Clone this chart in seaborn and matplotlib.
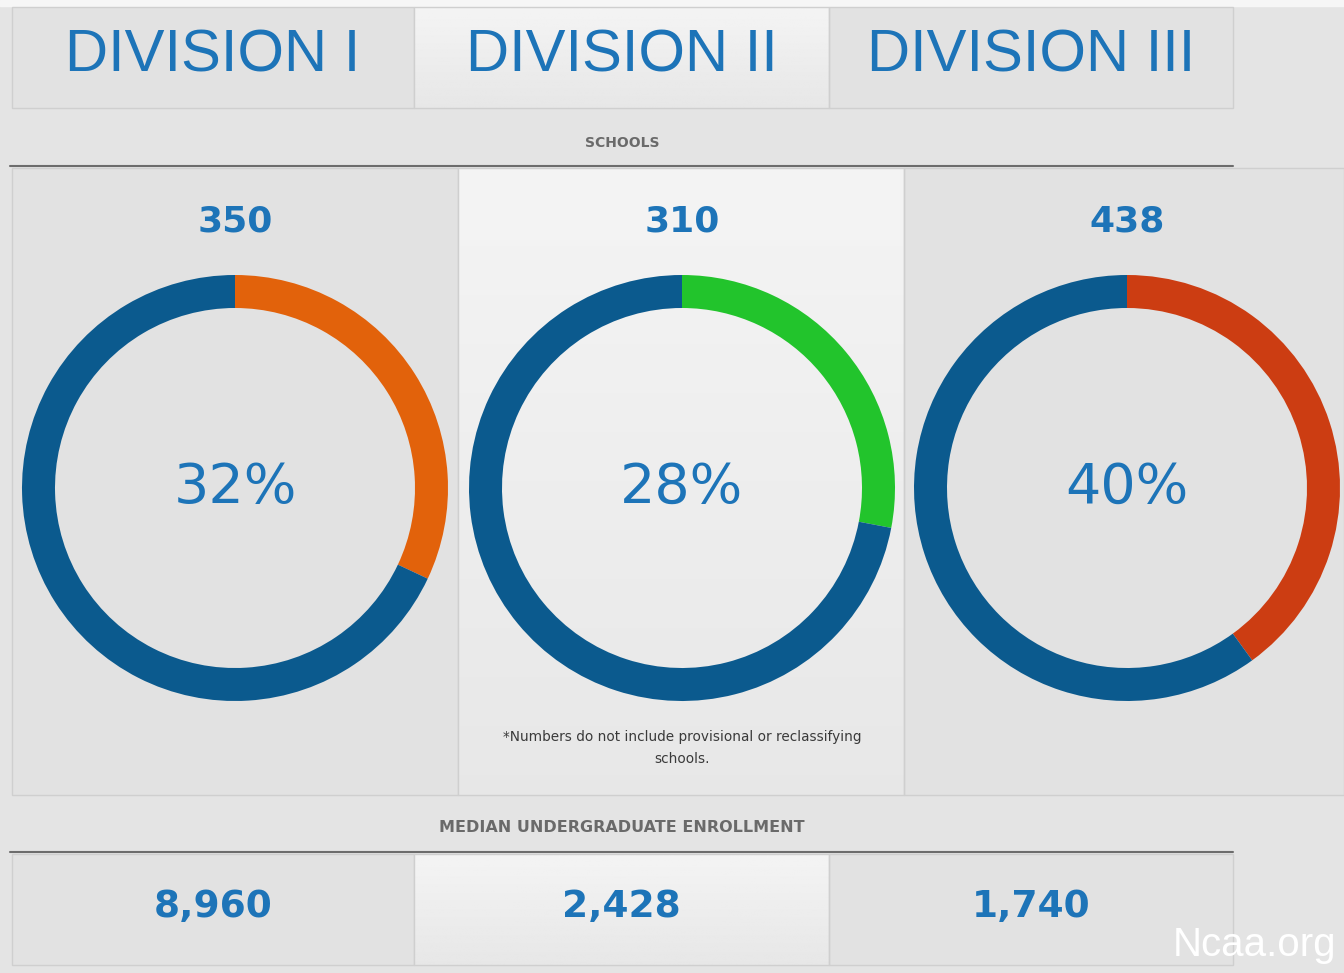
import numpy as np
import pandas as pd
import matplotlib
matplotlib.use('Agg')
import matplotlib.pyplot as plt
from matplotlib.patches import Rectangle
import seaborn as sns

divisions = ['DIVISION I', 'DIVISION II', 'DIVISION III']
schools = [350, 310, 438]
school_share = [32, 28, 40]
enrollment = [8960, 2428, 1740]
accent = ['#e2620b', '#22c42c', '#cc3d12']

sns.set_theme(style='white')
plt.rcParams['font.family'] = ['DejaVu Sans']

W, H = 1344, 973
blue_ring = '#0b5a8e'
blue_txt = '#1d74b8'
bg = '#e4e4e4'
dark_panel = '#e2e2e2'
edge = '#cfcfcf'

fig = plt.figure(figsize=(W / 100, H / 100), dpi=100, facecolor=bg)
ax = fig.add_axes([0, 0, 1, 1])


def panel(x0, x1, y0, y1, light):
    if light:
        # light panels fade from near white at the top to grey at the bottom
        grad = np.linspace(0.955, 0.905, 64).reshape(-1, 1)
        ax.imshow(np.repeat(grad, 2, axis=1), cmap='gray', vmin=0, vmax=1,
                  extent=(x0, x1, y1, y0), origin='upper', aspect='auto', zorder=1)
        ax.add_patch(Rectangle((x0, y0), x1 - x0, y1 - y0, fill=False,
                               edgecolor=edge, lw=1, zorder=2))
    else:
        ax.add_patch(Rectangle((x0, y0), x1 - x0, y1 - y0, facecolor=dark_panel,
                               edgecolor=edge, lw=1, zorder=1))


ax.add_patch(Rectangle((0, 0), W, 6, color='#f6f6f6', zorder=0))

# header row
hx = [12, 414, 829, 1233]
for i in range(3):
    panel(hx[i], hx[i + 1], 7, 108, i == 1)
    ax.text((hx[i] + hx[i + 1]) / 2, 56, divisions[i], ha='center', va='center',
            fontsize=43, color=blue_txt, zorder=3,
            family=['Liberation Sans Narrow', 'Liberation Sans', 'DejaVu Sans'])

ax.text(622, 143, 'SCHOOLS', ha='center', va='center', fontsize=10,
        fontweight='bold', color='#6a6a6a')
ax.plot([10, 1233], [166, 166], color='#6c6c6c', lw=1.5)

# middle panels
mx = [12, 458, 904, 1344]
cx = [235, 682, 1127]
for i in range(3):
    panel(mx[i], mx[i + 1], 168, 795, i == 1)
    ax.text(cx[i], 222, str(schools[i]), ha='center', va='center', fontsize=26,
            fontweight='bold', color=blue_txt, zorder=3)

ax.text(682, 748, '*Numbers do not include provisional or reclassifying\nschools.',
        ha='center', va='center', fontsize=9.8, color='#3a3a3a', linespacing=1.75,
        zorder=3)

# enrollment row
ax.text(622, 827, 'MEDIAN UNDERGRADUATE ENROLLMENT', ha='center', va='center',
        fontsize=11.5, fontweight='bold', color='#6a6a6a',
        family=['Liberation Sans Narrow', 'DejaVu Sans'])
ax.plot([10, 1233], [852, 852], color='#6c6c6c', lw=1.5)
for i in range(3):
    panel(hx[i], hx[i + 1], 854, 965, i == 1)
    ax.text((hx[i] + hx[i + 1]) / 2, 907, f'{enrollment[i]:,}', ha='center',
            va='center', fontsize=27, fontweight='bold', color=blue_txt, zorder=3)

ax.text(1336, 945, 'Ncaa.org', ha='right', va='center', fontsize=29, color='white',
        zorder=4, family=['Liberation Sans Narrow', 'Liberation Sans', 'DejaVu Sans'])

ax.set_xlim(0, W)
ax.set_ylim(H, 0)
ax.axis('off')

# donuts
R, cy, ring = 213, 488, 33
for i in range(3):
    dax = fig.add_axes([(cx[i] - R) / W, 1 - (cy + R) / H, 2 * R / W, 2 * R / H])
    dax.pie([school_share[i], 100 - school_share[i]], colors=[accent[i], blue_ring],
            startangle=90, counterclock=False, radius=1,
            wedgeprops=dict(width=ring / R, linewidth=0))
    dax.set_xlim(-1, 1)
    dax.set_ylim(-1, 1)
    dax.set_aspect('equal')
    dax.axis('off')
    dax.text(0, 0, f'{school_share[i]}%', ha='center', va='center',
             fontsize=40, color=blue_txt)

fig.savefig('out.png', dpi=100, facecolor=bg)
